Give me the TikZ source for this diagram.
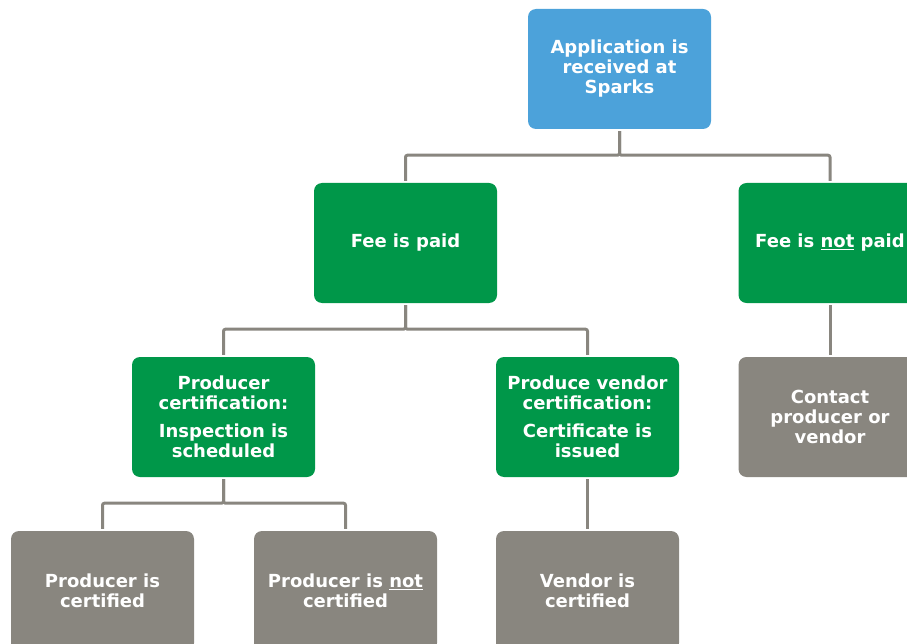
\documentclass[tikz,border=0pt]{standalone}
\usepackage{fontspec}
\setmainfont{DejaVu Sans}
\definecolor{skyblue}{RGB}{76,162,218}
\definecolor{leafgreen}{RGB}{0,151,73}
\definecolor{stonegray}{RGB}{137,134,127}
\tikzset{
  box/.style={rectangle,rounded corners=8pt,minimum width=183pt,minimum height=120pt,inner sep=0pt,
    text=white,font=\fontsize{18}{20}\selectfont\bfseries,align=center},
  startbox/.style={box,fill=skyblue},
  yesbox/.style={box,fill=leafgreen},
  endbox/.style={box,fill=stonegray},
  link/.style={draw=stonegray,line width=3pt,rounded corners=2pt}
}
\begin{document}
\begin{tikzpicture}[x=1pt,y=-1pt]
\useasboundingbox (0,0) rectangle (907,644);
\clip (0,0) rectangle (907,644);
\node[startbox] (app) at (619.5,69) {Application is\\received at\\Sparks};
\node[yesbox] (paid) at (405.5,243) {Fee is paid};
\node[yesbox] (unpaid) at (830,243) {Fee is \underline{not} paid};
\node[yesbox] (prodcert) at (223.5,417) {Producer\\certification:\\[8pt]Inspection is\\scheduled};
\node[yesbox] (vendcert) at (587.5,417) {Produce vendor\\certification:\\[8pt]Certificate is\\issued};
\node[endbox] (contact) at (830,417) {Contact\\producer or\\vendor};
\node[endbox] (certified) at (102.5,591) {Producer is\\certified};
\node[endbox] (notcertified) at (345.5,591) {Producer is \underline{not}\\certified};
\node[endbox] (vendor) at (587.5,591) {Vendor is\\certified};
\draw[link] ([yshift=-2pt]app.south) -- ++(0,24) -| ([yshift=2pt]paid.north);
\draw[link] ([yshift=-2pt]app.south) -- ++(0,24) -| ([yshift=2pt]unpaid.north);
\draw[link] ([yshift=-2pt]paid.south) -- ++(0,24) -| ([yshift=2pt]prodcert.north);
\draw[link] ([yshift=-2pt]paid.south) -- ++(0,24) -| ([yshift=2pt]vendcert.north);
\draw[link] ([yshift=-2pt]prodcert.south) -- ++(0,24) -| ([yshift=2pt]certified.north);
\draw[link] ([yshift=-2pt]prodcert.south) -- ++(0,24) -| ([yshift=2pt]notcertified.north);
\draw[link] ([yshift=-2pt]unpaid.south) -- ([yshift=2pt]contact.north);
\draw[link] ([yshift=-2pt]vendcert.south) -- ([yshift=2pt]vendor.north);
\end{tikzpicture}
\end{document}
